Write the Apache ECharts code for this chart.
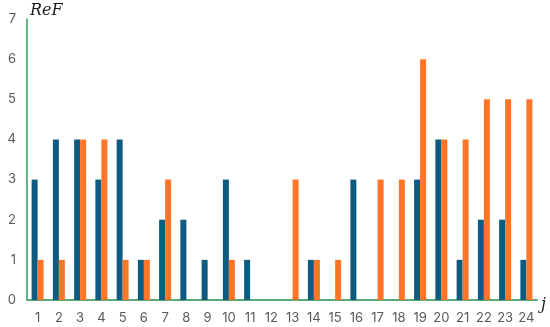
<!DOCTYPE html>
<html><head><meta charset="utf-8">
<script src="https://cdn.jsdelivr.net/npm/echarts@6/dist/echarts.min.js"></script>
<style>html,body{margin:0;padding:0;background:#fff}#c{width:550px;height:327px}</style>
</head><body><div id="c"></div>
<script>
const categories = ['1','2','3','4','5','6','7','8','9','10','11','12','13','14','15','16','17','18','19','20','21','22','23','24'];
const blueValues = [3,4,4,3,4,1,2,2,1,3,1,0,0,1,0,3,0,0,3,4,1,2,2,1];
const orangeValues = [1,1,4,4,1,1,3,0,0,1,0,0,3,1,1,0,3,3,6,4,4,5,5,5];
const yTicks = [0,1,2,3,4,5,6,7];

const chart = echarts.init(document.getElementById('c'));
chart.setOption({
  animation: false,
  grid: {left: 27, right: 13, top: 19, bottom: 27},
  xAxis: {
    type: 'category', data: categories,
    name: 'j', nameLocation: 'end', nameGap: 4,
    nameTextStyle: {fontFamily: 'DejaVu Serif', fontStyle: 'italic', fontSize: 16, color: '#222', verticalAlign: 'top', padding: [-3,0,0,0]},
    axisLine: {lineStyle: {color: '#5aa874', width: 2}},
    axisTick: {show: false},
    axisLabel: {color: '#595959', fontSize: 13, fontFamily: 'Inter', margin: 12}
  },
  yAxis: {
    type: 'value', min: 0, max: 7, interval: 1,
    name: 'ReF', nameLocation: 'end', nameGap: 0,
    nameTextStyle: {fontFamily: 'DejaVu Serif', fontStyle: 'italic', fontSize: 16, color: '#1a1a1a', align: 'left', padding: [0,0,0,3]},
    axisLine: {show: true, lineStyle: {color: '#2e9e5b', width: 1.5}},
    axisTick: {show: false},
    splitLine: {show: false},
    axisLabel: {color: '#595959', fontSize: 13, fontFamily: 'Inter', margin: 11,
      formatter: v => yTicks.includes(v) ? String(v) : ''}
  },
  series: [
    {type: 'bar', data: blueValues, barWidth: 6, barGap: '0%', itemStyle: {color: '#0d5b80'}},
    {type: 'bar', data: orangeValues, barWidth: 6, barGap: '0%', itemStyle: {color: '#ff7528'}}
  ]
});
</script></body></html>
